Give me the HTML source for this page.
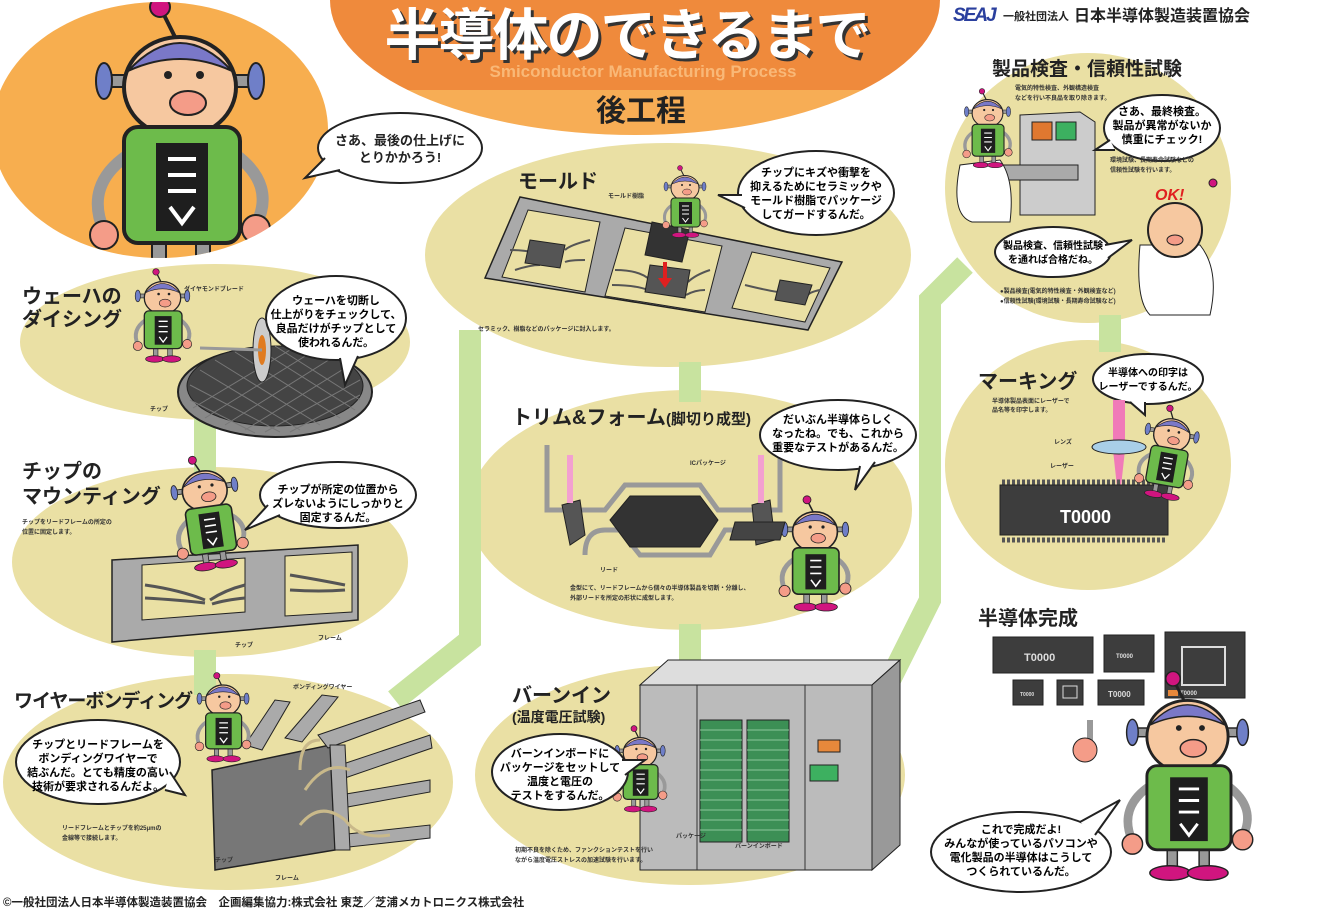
<!DOCTYPE html>
<html><head><meta charset="utf-8"><style>
html,body{margin:0;padding:0;background:#fff;}
svg{display:block;}
text{font-family:"Liberation Sans","Noto Sans CJK JP",sans-serif;font-weight:bold;}
</style></head><body>
<svg width="1334" height="914" viewBox="0 0 1334 914" xmlns="http://www.w3.org/2000/svg">
<defs>
<clipPath id="tc"><ellipse cx="635" cy="0" rx="305" ry="135"/></clipPath>
<clipPath id="oc"><ellipse cx="160" cy="130" rx="168" ry="128"/></clipPath>
<g id="robot">
  <line x1="50" y1="26" x2="40" y2="6" stroke="#222" stroke-width="2"/>
  <circle cx="40" cy="6" r="5" fill="#d0157f" stroke="#222"/>
  <rect x="14" y="40" width="72" height="6" fill="#999" stroke="#222"/>
  <ellipse cx="12" cy="43" rx="4" ry="9" fill="#6f7fc8" stroke="#222"/>
  <ellipse cx="88" cy="43" rx="4" ry="9" fill="#6f7fc8" stroke="#222"/>
  <ellipse cx="50" cy="46" rx="28" ry="25" fill="#f6c8a0" stroke="#222" stroke-width="2"/>
  <path d="M24 38 Q50 10 76 38 Q50 26 24 38Z" fill="#7a78c8" stroke="#222"/>
  <ellipse cx="54" cy="54" rx="9" ry="6" fill="#f49c88" stroke="#222"/>
  <circle cx="44" cy="40" r="2" fill="#222"/><circle cx="60" cy="40" r="2" fill="#222"/>
  <rect x="36" y="118" width="7" height="20" fill="#999" stroke="#222"/>
  <rect x="58" y="118" width="7" height="20" fill="#999" stroke="#222"/>
  <ellipse cx="38" cy="140" rx="14" ry="5" fill="#d0157f" stroke="#222"/>
  <ellipse cx="64" cy="140" rx="14" ry="5" fill="#d0157f" stroke="#222"/>
  <path d="M24 80 Q2 95 12 118" stroke="#999" stroke-width="6" fill="none"/>
  <path d="M78 80 Q98 95 88 115" stroke="#999" stroke-width="6" fill="none"/>
  <circle cx="12" cy="120" r="7" fill="#f49c88" stroke="#222"/>
  <circle cx="88" cy="117" r="7" fill="#f49c88" stroke="#222"/>
  <rect x="22" y="66" width="58" height="58" rx="7" fill="#6dbb4b" stroke="#222" stroke-width="2"/>
  <rect x="38" y="74" width="26" height="44" fill="#1e1e1e"/>
  <path d="M44 82h14M44 90h14M44 98h14M45 106l6 8 6-8" stroke="#fff" stroke-width="2" fill="none"/>
</g>
</defs>

<!-- background ellipses -->
<ellipse cx="160" cy="130" rx="168" ry="128" fill="#f7ae4f"/>
<g fill="#eae0a4">
<ellipse cx="215" cy="342" rx="195" ry="78"/>
<ellipse cx="210" cy="562" rx="198" ry="95"/>
<ellipse cx="228" cy="782" rx="225" ry="108"/>
<ellipse cx="668" cy="255" rx="243" ry="112"/>
<ellipse cx="690" cy="510" rx="222" ry="120"/>
<ellipse cx="690" cy="775" rx="215" ry="110"/>
<ellipse cx="1088" cy="188" rx="143" ry="135"/>
<ellipse cx="1088" cy="465" rx="143" ry="125"/>
</g>

<!-- connectors -->
<g stroke="#c8e39f" stroke-width="22" fill="none" stroke-linejoin="miter">
<line x1="205" y1="415" x2="205" y2="475"/>
<line x1="205" y1="650" x2="205" y2="695"/>
<polyline points="395,700 470,640 470,330"/>
<line x1="690" y1="362" x2="690" y2="402"/>
<line x1="690" y1="624" x2="690" y2="666"/>
<polyline points="880,700 930,600 930,300 965,265"/>
<line x1="1110" y1="315" x2="1110" y2="352"/>
</g>

<!-- title -->
<g clip-path="url(#tc)">
<rect x="300" y="0" width="700" height="90" fill="#ef8a3c"/>
<rect x="300" y="90" width="700" height="60" fill="#f7ad55"/>
</g>
<text x="630" y="58" font-size="56" fill="#333" text-anchor="middle" letter-spacing="-2">半導体のできるまで</text>
<text x="627" y="55" font-size="56" fill="#fff" text-anchor="middle" letter-spacing="-2">半導体のできるまで</text>
<text x="643" y="77" font-size="17" fill="#f9b877" text-anchor="middle">Smiconductor Manufacturing Process</text>
<text x="641" y="121" font-size="30" fill="#222" text-anchor="middle">後工程</text>

<text x="953" y="21" font-size="19" fill="#2a3f9e" font-style="italic" letter-spacing="-2">SEAJ</text>
<text x="1003" y="20" font-size="11" fill="#222">一般社団法人</text>
<text x="1074" y="21" font-size="16" fill="#222" font-weight="normal">日本半導体製造装置協会</text>

<!-- big robot top-left -->
<g clip-path="url(#oc)"><use href="#robot" transform="translate(80,-5) scale(2)"/></g>
<!-- bubble -->
<ellipse cx="400" cy="148" rx="82" ry="35" fill="#fff" stroke="#222" stroke-width="2"/>
<path d="M325 158 L305 178 L340 170" fill="#fff" stroke="#222" stroke-width="2"/>
<text x="400" y="145" font-size="13" text-anchor="middle" fill="#222">さあ、最後の仕上げに</text>
<text x="400" y="162" font-size="13" text-anchor="middle" fill="#222">とりかかろう!</text>

<!-- Dicing -->
<text x="22" y="303" font-size="20" fill="#222">ウェーハの</text>
<text x="22" y="326" font-size="20" fill="#222">ダイシング</text>
<ellipse cx="275" cy="392" rx="97" ry="45" fill="#888" stroke="#222" stroke-width="2"/>
<ellipse cx="275" cy="386" rx="88" ry="40" fill="#444" stroke="#222"/>
<g stroke="#777" stroke-width="1">
<path d="M200 370 L300 430 M215 360 L320 425 M235 352 L340 418 M255 347 L355 410 M275 346 L360 400 M190 385 L280 432 M190 400 L255 433"/>
<path d="M350 365 L245 430 M335 356 L225 425 M315 350 L205 418 M295 347 L193 408 M360 380 L265 432 M360 395 L290 432"/>
</g>
<ellipse cx="262" cy="350" rx="9" ry="32" fill="#ccc" stroke="#222"/>
<ellipse cx="262" cy="350" rx="4" ry="15" fill="#e07b20"/>
<use href="#robot" transform="translate(130,268) scale(0.65)"/>
<line x1="200" y1="348" x2="262" y2="350" stroke="#999" stroke-width="3"/>
<ellipse cx="336" cy="318" rx="70" ry="42" fill="#fff" stroke="#222" stroke-width="2"/>
<path d="M340 358 L345 385 L358 356" fill="#fff" stroke="#222" stroke-width="2"/>
<text x="336" y="304" font-size="11" text-anchor="middle">ウェーハを切断し</text>
<text x="336" y="318" font-size="11" text-anchor="middle">仕上がりをチェックして、</text>
<text x="336" y="332" font-size="11" text-anchor="middle">良品だけがチップとして</text>
<text x="336" y="346" font-size="11" text-anchor="middle">使われるんだ。</text>
<text x="184" y="291" font-size="6" fill="#333">ダイヤモンドブレード</text>
<text x="150" y="411" font-size="6" fill="#333">チップ</text>

<!-- Mounting -->
<text x="22" y="478" font-size="20" fill="#222">チップの</text>
<text x="22" y="503" font-size="20" fill="#222">マウンティング</text>
<text x="22" y="524" font-size="6" fill="#333">チップをリードフレームの所定の</text>
<text x="22" y="534" font-size="6" fill="#333">位置に固定します。</text>
<polygon points="112,560 358,545 358,620 112,642" fill="#aaa" stroke="#222" stroke-width="1.5"/>
<polygon points="142,565 245,558 245,612 142,620" fill="#eae0a4" stroke="#222"/>
<polygon points="285,556 352,552 352,612 285,616" fill="#eae0a4" stroke="#222"/>
<g stroke="#555" stroke-width="3" fill="none">
<path d="M145 585 Q180 590 205 600 M145 598 Q180 600 205 603 M245 585 Q225 590 210 600 M245 598 Q225 600 212 604 M290 575 Q320 580 345 585 M290 590 Q320 592 345 590"/>
</g>
<use href="#robot" transform="translate(160,460) scale(0.8) rotate(-8)"/>
<ellipse cx="338" cy="495" rx="78" ry="33" fill="#fff" stroke="#222" stroke-width="2"/>
<path d="M268 505 L245 530 L280 515" fill="#fff" stroke="#222" stroke-width="2"/>
<text x="338" y="493" font-size="11" text-anchor="middle">チップが所定の位置から</text>
<text x="338" y="507" font-size="11" text-anchor="middle">ズレないようにしっかりと</text>
<text x="338" y="521" font-size="11" text-anchor="middle">固定するんだ。</text>
<text x="235" y="647" font-size="6" fill="#333">チップ</text>
<text x="318" y="640" font-size="6" fill="#333">フレーム</text>

<!-- Wire bonding -->
<polygon points="212,770 330,745 335,850 215,870" fill="#777" stroke="#222" stroke-width="1.5"/>
<g fill="#aaa" stroke="#222">
<polygon points="245,745 275,700 290,702 262,750"/>
<polygon points="285,738 322,695 338,697 302,742"/>
<polygon points="318,735 420,700 425,712 328,748"/>
<polygon points="340,765 430,735 432,748 345,778"/>
<polygon points="340,795 430,780 430,792 342,808"/>
<polygon points="338,835 430,825 430,838 340,848"/>
<polygon points="330,745 345,745 350,850 335,850"/>
</g>
<g stroke="#c9b98a" stroke-width="3" fill="none">
<path d="M300 770 Q300 740 320 740 M305 790 Q325 760 350 770 M300 825 Q320 800 345 820 Q360 840 390 835"/>
</g>
<use href="#robot" transform="translate(192,672) scale(0.62)"/>
<text x="14" y="707" font-size="19" fill="#222" letter-spacing="-1">ワイヤーボンディング</text>
<ellipse cx="98" cy="762" rx="82" ry="42" fill="#fff" stroke="#222" stroke-width="2"/>
<path d="M170 772 L185 795 L165 790" fill="#fff" stroke="#222" stroke-width="2"/>
<text x="98" y="748" font-size="11" text-anchor="middle">チップとリードフレームを</text>
<text x="98" y="762" font-size="11" text-anchor="middle">ボンディングワイヤーで</text>
<text x="98" y="776" font-size="11" text-anchor="middle">結ぶんだ。とても精度の高い</text>
<text x="98" y="790" font-size="11" text-anchor="middle">技術が要求されるんだよ。</text>
<text x="62" y="830" font-size="6" fill="#333">リードフレームとチップを約25μmの</text>
<text x="62" y="840" font-size="6" fill="#333">金線等で接続します。</text>
<text x="293" y="689" font-size="6" fill="#333">ボンディングワイヤー</text>
<text x="215" y="862" font-size="6" fill="#333">チップ</text>
<text x="275" y="880" font-size="6" fill="#333">フレーム</text>

<!-- Mold -->
<text x="518" y="188" font-size="20" fill="#222">モールド</text>
<polygon points="520,197 842,262 808,330 485,278" fill="#aaa" stroke="#222" stroke-width="1.5"/>
<g fill="#eae0a4" stroke="#222">
<polygon points="528,210 600,222 585,292 502,277"/>
<polygon points="625,228 722,246 705,312 605,296"/>
<polygon points="752,252 830,268 805,322 732,308"/>
</g>
<g stroke="#555" stroke-width="2" fill="none">
<path d="M510 250 Q530 250 540 255 M515 270 Q530 265 540 265 M590 240 Q570 245 565 250 M585 260 Q570 260 565 262 M615 270 Q640 270 650 280 M612 285 Q635 285 648 290 M710 270 Q695 275 688 282 M705 290 Q695 290 686 295 M745 285 Q765 290 778 292 M820 290 Q810 292 808 295"/>
</g>
<g fill="#555" stroke="#222">
<polygon points="530,240 565,245 560,268 525,263"/>
<polygon points="650,265 690,270 685,298 645,292"/>
<polygon points="780,280 812,285 805,305 775,300"/>
</g>
<polygon points="652,222 690,230 682,262 645,255" fill="#333" stroke="#222"/>
<path d="M665 262 L665 280" stroke="#e02020" stroke-width="4"/>
<polygon points="658,278 672,278 665,288" fill="#e02020"/>
<use href="#robot" transform="translate(660,165) scale(0.5)"/>
<ellipse cx="816" cy="193" rx="78" ry="42" fill="#fff" stroke="#222" stroke-width="2"/>
<path d="M742 195 L718 195 L745 208" fill="#fff" stroke="#222" stroke-width="2"/>
<text x="816" y="176" font-size="11" text-anchor="middle">チップにキズや衝撃を</text>
<text x="816" y="190" font-size="11" text-anchor="middle">抑えるためにセラミックや</text>
<text x="816" y="204" font-size="11" text-anchor="middle">モールド樹脂でパッケージ</text>
<text x="816" y="218" font-size="11" text-anchor="middle">してガードするんだ。</text>
<text x="608" y="198" font-size="6" fill="#333">モールド樹脂</text>
<text x="478" y="331" font-size="6" fill="#333">セラミック、樹脂などのパッケージに封入します。</text>

<!-- Trim & form -->
<text x="512" y="424" font-size="20" fill="#222">トリム&amp;フォーム</text>
<text x="666" y="424" font-size="15" fill="#222">(脚切り成型)</text>
<path d="M547 445 V510 H605 L625 485 H700 L718 510 H780 V445" stroke="#999" stroke-width="5" fill="none"/>
<path d="M585 555 Q585 530 605 530 H620 L640 555 H710 L725 530 H770" stroke="#999" stroke-width="5" fill="none"/>
<polygon points="610,520 630,496 700,496 718,520 700,547 630,547" fill="#333" stroke="#222"/>
<polygon points="562,505 580,500 585,535 570,545" fill="#555" stroke="#222"/>
<polygon points="752,505 770,500 775,540 756,545" fill="#555" stroke="#222"/>
<rect x="567" y="455" width="6" height="48" fill="#f3a0d0"/>
<rect x="758" y="455" width="6" height="48" fill="#f3a0d0"/>
<use href="#robot" transform="translate(775,495) scale(0.8)"/>
<polygon points="735,522 785,522 780,540 730,540" fill="#444" stroke="#222"/>
<ellipse cx="838" cy="435" rx="78" ry="35" fill="#fff" stroke="#222" stroke-width="2"/>
<path d="M860 466 L855 490 L875 462" fill="#fff" stroke="#222" stroke-width="2"/>
<text x="838" y="423" font-size="11" text-anchor="middle">だいぶん半導体らしく</text>
<text x="838" y="437" font-size="11" text-anchor="middle">なったね。でも、これから</text>
<text x="838" y="451" font-size="11" text-anchor="middle">重要なテストがあるんだ。</text>
<text x="690" y="465" font-size="6" fill="#333">ICパッケージ</text>
<text x="600" y="572" font-size="6" fill="#333">リード</text>
<text x="570" y="590" font-size="6" fill="#333">金型にて、リードフレームから個々の半導体製品を切断・分離し、</text>
<text x="570" y="600" font-size="6" fill="#333">外部リードを所定の形状に成型します。</text>

<!-- Burn-in -->
<text x="512" y="702" font-size="20" fill="#222">バーンイン</text>
<text x="512" y="722" font-size="14" fill="#222">(温度電圧試験)</text>
<polygon points="640,685 668,660 900,660 872,685" fill="#ddd" stroke="#222"/>
<polygon points="872,685 900,660 900,845 872,870" fill="#999" stroke="#222"/>
<rect x="640" y="685" width="232" height="185" fill="#bbb" stroke="#222"/>
<line x1="697" y1="685" x2="697" y2="870" stroke="#333"/>
<line x1="805" y1="685" x2="805" y2="870" stroke="#333"/>
<rect x="700" y="720" width="42" height="122" fill="#3c8f55" stroke="#222"/>
<rect x="747" y="720" width="42" height="122" fill="#3c8f55" stroke="#222"/>
<g stroke="#8bc79a" stroke-width="1"><path d="M700 730h42M700 740h42M700 750h42M700 760h42M700 770h42M700 780h42M700 790h42M700 800h42M700 810h42M700 820h42M700 830h42M747 730h42M747 740h42M747 750h42M747 760h42M747 770h42M747 780h42M747 790h42M747 800h42M747 810h42M747 820h42M747 830h42"/></g>
<rect x="818" y="740" width="22" height="12" fill="#e7883b" stroke="#222"/>
<rect x="810" y="765" width="28" height="16" fill="#3db060" stroke="#222"/>
<use href="#robot" transform="translate(610,725) scale(0.6)"/>
<ellipse cx="560" cy="772" rx="68" ry="38" fill="#fff" stroke="#222" stroke-width="2"/>
<path d="M622 760 L645 760 L625 775" fill="#fff" stroke="#222" stroke-width="2"/>
<text x="560" y="757" font-size="11" text-anchor="middle">バーンインボードに</text>
<text x="560" y="771" font-size="11" text-anchor="middle">パッケージをセットして</text>
<text x="560" y="785" font-size="11" text-anchor="middle">温度と電圧の</text>
<text x="560" y="799" font-size="11" text-anchor="middle">テストをするんだ。</text>
<text x="515" y="852" font-size="6" fill="#333">初期不良を除くため、ファンクションテストを行い</text>
<text x="515" y="862" font-size="6" fill="#333">ながら温度電圧ストレスの加速試験を行います。</text>
<text x="676" y="838" font-size="6" fill="#333">パッケージ</text>
<text x="735" y="848" font-size="6" fill="#333">バーンインボード</text>

<!-- Inspection -->
<text x="992" y="75" font-size="19" fill="#222">製品検査・信頼性試験</text>
<text x="1015" y="90" font-size="6" fill="#333">電気的特性検査、外観構造検査</text>
<text x="1015" y="100" font-size="6" fill="#333">などを行い不良品を取り除きます。</text>
<polygon points="1020,115 1080,112 1095,122 1095,215 1020,215" fill="#ccc" stroke="#222"/>
<rect x="1032" y="122" width="20" height="18" fill="#e07830" stroke="#222"/>
<rect x="1056" y="122" width="20" height="18" fill="#3cb060" stroke="#222"/>
<rect x="1003" y="165" width="75" height="15" fill="#aaa" stroke="#222"/>
<path d="M960 165 Q950 215 972 222 L1010 222 Q1015 180 1000 160Z" fill="#fff" stroke="#222"/>
<use href="#robot" transform="translate(960,88) scale(0.55)"/>
<ellipse cx="1162" cy="128" rx="58" ry="33" fill="#fff" stroke="#222" stroke-width="2"/>
<path d="M1110 140 L1095 150 L1115 150" fill="#fff" stroke="#222" stroke-width="2"/>
<text x="1162" y="115" font-size="11" text-anchor="middle">さあ、最終検査。</text>
<text x="1162" y="129" font-size="11" text-anchor="middle">製品が異常がないか</text>
<text x="1162" y="143" font-size="11" text-anchor="middle">慎重にチェック!</text>
<text x="1110" y="162" font-size="6" fill="#333">環境試験、長期寿命試験などの</text>
<text x="1110" y="172" font-size="6" fill="#333">信頼性試験を行います。</text>
<text x="1155" y="200" font-size="16" fill="#e02020" font-style="italic">OK!</text>
<path d="M1140 245 Q1135 300 1150 315 H1210 Q1220 270 1200 245Z" fill="#fff" stroke="#222"/>
<circle cx="1175" cy="230" r="27" fill="#f6c8a0" stroke="#222" stroke-width="2"/>
<ellipse cx="1175" cy="240" rx="8" ry="5" fill="#f49c88" stroke="#222"/>
<circle cx="1213" cy="183" r="4" fill="#d0157f" stroke="#222"/>
<ellipse cx="1053" cy="252" rx="58" ry="25" fill="#fff" stroke="#222" stroke-width="2"/>
<path d="M1105 245 L1132 240 L1108 258" fill="#fff" stroke="#222" stroke-width="2"/>
<text x="1053" y="249" font-size="10" text-anchor="middle">製品検査、信頼性試験</text>
<text x="1053" y="263" font-size="10" text-anchor="middle">を通れば合格だね。</text>
<text x="1000" y="293" font-size="6" fill="#333">●製品検査(電気的特性検査・外観検査など)</text>
<text x="1000" y="303" font-size="6" fill="#333">●信頼性試験(環境試験・長期寿命試験など)</text>

<!-- Marking -->
<text x="978" y="388" font-size="20" fill="#222">マーキング</text>
<text x="992" y="403" font-size="6" fill="#333">半導体製品表面にレーザーで</text>
<text x="992" y="412" font-size="6" fill="#333">品名等を印字します。</text>
<ellipse cx="1148" cy="379" rx="55" ry="25" fill="#fff" stroke="#222" stroke-width="2"/>
<path d="M1130 402 L1145 415 L1145 402" fill="#fff" stroke="#222" stroke-width="2"/>
<text x="1148" y="376" font-size="10" text-anchor="middle">半導体への印字は</text>
<text x="1148" y="390" font-size="10" text-anchor="middle">レーザーでするんだ。</text>
<rect x="1113" y="400" width="12" height="50" fill="#f07ab8"/>
<polygon points="1113,450 1125,450 1119,505" fill="#f07ab8"/>
<ellipse cx="1119" cy="447" rx="27" ry="7" fill="#a9cfe8" stroke="#222"/>
<text x="1054" y="444" font-size="6" fill="#333">レンズ</text>
<text x="1050" y="468" font-size="6" fill="#333">レーザー</text>
<rect x="1000" y="485" width="168" height="50" fill="#3d3d3d" stroke="#222"/>
<path d="M1002 482 H1166 M1002 540 H1166" stroke="#555" stroke-width="5" stroke-dasharray="3 2"/>
<text x="1060" y="523" font-size="18" fill="#fff" font-weight="normal">T0000</text>
<use href="#robot" transform="translate(1145,400) scale(0.65) rotate(10)"/>

<!-- Complete -->
<text x="978" y="625" font-size="20" fill="#222">半導体完成</text>
<g fill="#3d3d3d" stroke="#222">
<rect x="993" y="637" width="100" height="36"/>
<rect x="1104" y="635" width="50" height="37"/>
<rect x="1165" y="632" width="80" height="66"/>
<rect x="1013" y="680" width="30" height="25"/>
<rect x="1057" y="680" width="26" height="25"/>
<rect x="1098" y="680" width="46" height="25"/>
</g>
<rect x="1182" y="647" width="43" height="38" fill="none" stroke="#ddd" stroke-width="2"/>
<rect x="1063" y="686" width="14" height="12" fill="none" stroke="#ddd"/>
<rect x="1168" y="690" width="10" height="6" fill="#e7883b"/>
<text x="1024" y="661" font-size="11" fill="#ddd" font-weight="normal">T0000</text>
<text x="1116" y="658" font-size="6" fill="#ddd" font-weight="normal">T0000</text>
<text x="1020" y="696" font-size="5" fill="#ddd" font-weight="normal">T0000</text>
<text x="1108" y="697" font-size="8" fill="#ddd" font-weight="normal">T0000</text>
<text x="1180" y="695" font-size="6" fill="#ddd" font-weight="normal">T0000</text>
<use href="#robot" transform="translate(1115,670) scale(1.45)"/>
<path d="M1090 760 L1090 720" stroke="#999" stroke-width="6"/>
<circle cx="1085" cy="750" r="12" fill="#f49c88" stroke="#222"/>
<ellipse cx="1021" cy="852" rx="90" ry="40" fill="#fff" stroke="#222" stroke-width="2"/>
<path d="M1080 822 L1120 800 L1095 835" fill="#fff" stroke="#222" stroke-width="2"/>
<text x="1021" y="833" font-size="11" text-anchor="middle">これで完成だよ!</text>
<text x="1021" y="847" font-size="11" text-anchor="middle">みんなが使っているパソコンや</text>
<text x="1021" y="861" font-size="11" text-anchor="middle">電化製品の半導体はこうして</text>
<text x="1021" y="875" font-size="11" text-anchor="middle">つくられているんだ。</text>

<text x="3" y="906" font-size="11.5" fill="#222">©一般社団法人日本半導体製造装置協会　企画編集協力:株式会社 東芝／芝浦メカトロニクス株式会社</text>
</svg>
</body></html>
